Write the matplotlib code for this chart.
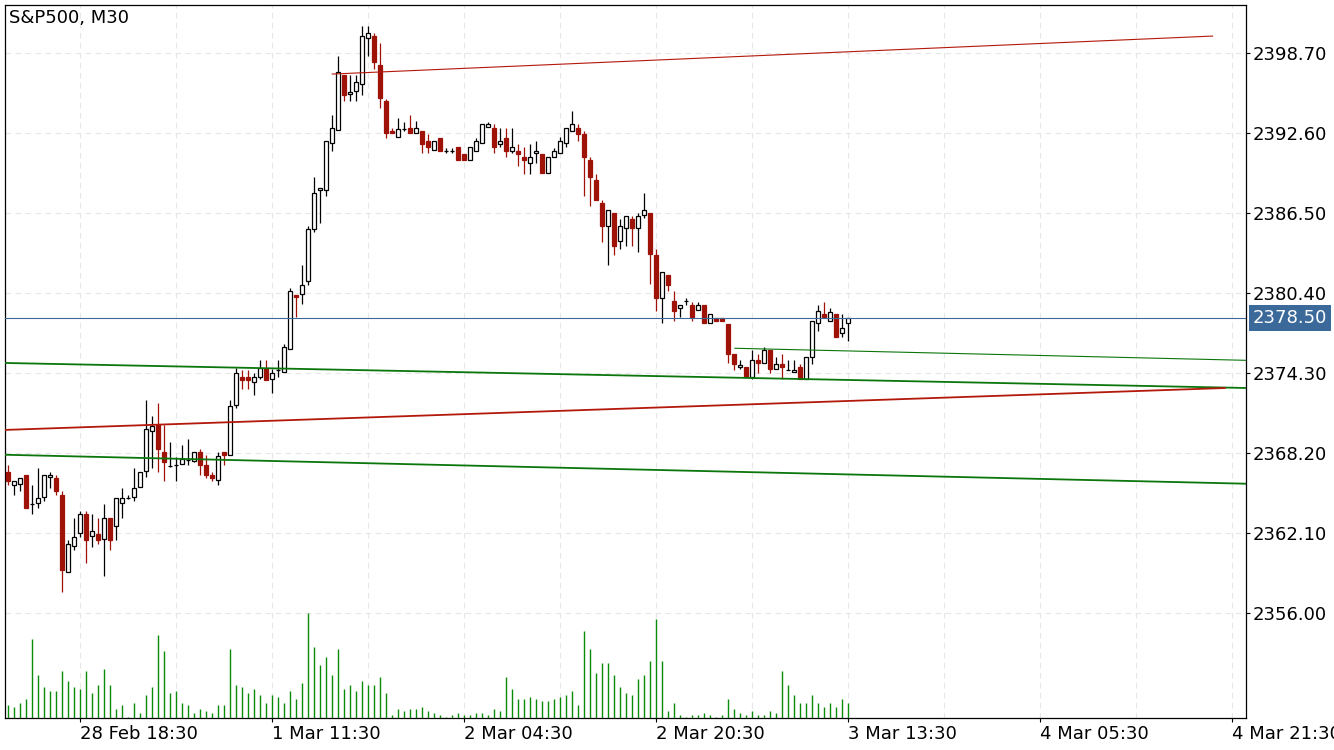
import matplotlib
matplotlib.use("Agg")
import matplotlib.pyplot as plt
import matplotlib.transforms as mtransforms
import numpy as np

# S&P500 M30 candles (bar index 0..140)
opens = [2366.78, 2365.81, 2365.83, 2366.55, 2364.31, 2364.39, 2364.84, 2366.37, 2366.32, 2365.02,
         2359.13, 2361.11, 2362.10, 2363.55, 2361.87, 2362.05, 2361.64, 2363.27, 2362.63, 2364.39,
         2364.79, 2364.84, 2365.61, 2366.83, 2369.88, 2370.36, 2368.30, 2367.26, 2367.28, 2367.36,
         2367.69, 2367.61, 2368.30, 2367.31, 2366.55, 2366.14, 2368.30, 2368.10, 2371.88, 2374.02,
         2374.02, 2373.61, 2374.04, 2374.63, 2373.84, 2374.55, 2374.37, 2376.13, 2380.24, 2380.32,
         2381.31, 2385.33, 2388.30, 2388.30, 2391.84, 2392.83, 2397.05, 2395.57, 2395.80, 2396.34,
         2399.84, 2400.02, 2397.81, 2395.06, 2392.78, 2392.29, 2392.96, 2392.98, 2392.60, 2392.75,
         2392.01, 2391.30, 2392.24, 2391.28, 2391.28, 2391.53, 2391.05, 2390.59, 2391.28, 2391.84,
         2393.06, 2393.01, 2391.81, 2392.24, 2391.28, 2391.25, 2390.79, 2390.31, 2391.07, 2391.02,
         2389.55, 2390.82, 2391.07, 2391.84, 2392.80, 2393.01, 2392.57, 2390.57, 2389.04, 2387.29,
         2385.56, 2386.50, 2384.37, 2385.36, 2386.07, 2385.36, 2386.35, 2386.50, 2383.32, 2380.07,
         2381.80, 2379.82, 2379.31, 2379.84, 2379.51, 2379.13, 2379.51, 2378.12, 2378.55, 2378.55,
         2378.09, 2375.80, 2374.81, 2374.81, 2374.05, 2375.32, 2375.07, 2376.08, 2374.61, 2375.02,
         2374.56, 2374.38, 2374.76, 2373.85, 2375.52, 2378.12, 2378.83, 2378.32, 2378.83, 2377.35,
         2378.12]
highs = [2367.31, 2366.06, 2366.29, 2366.55, 2365.78, 2367.08, 2366.52, 2366.78, 2366.55, 2365.33,
         2361.59, 2363.27, 2363.80, 2363.80, 2363.55, 2363.27, 2364.31, 2363.27, 2364.77, 2365.56,
         2365.02, 2367.08, 2366.75, 2372.27, 2371.05, 2372.04, 2370.36, 2369.06, 2367.94, 2368.83,
         2369.29, 2368.28, 2368.53, 2368.07, 2366.78, 2368.30, 2368.30, 2372.24, 2374.68, 2374.55,
         2374.55, 2374.32, 2375.31, 2375.31, 2374.63, 2375.31, 2376.51, 2380.78, 2380.24, 2382.56,
         2385.54, 2389.27, 2388.46, 2391.99, 2393.97, 2398.50, 2397.05, 2397.05, 2397.05, 2400.78,
         2400.78, 2400.22, 2399.46, 2395.24, 2392.98, 2393.74, 2393.49, 2393.97, 2393.51, 2392.75,
         2392.55, 2392.01, 2392.24, 2391.51, 2391.51, 2391.53, 2391.05, 2391.53, 2392.24, 2393.28,
         2393.46, 2393.28, 2393.01, 2393.01, 2393.01, 2391.81, 2391.53, 2391.79, 2391.99, 2391.02,
         2390.77, 2391.46, 2392.29, 2392.98, 2394.30, 2393.28, 2392.75, 2390.82, 2389.50, 2387.54,
         2386.73, 2386.50, 2386.07, 2386.27, 2386.27, 2386.50, 2388.02, 2386.50, 2383.75, 2382.00,
         2381.80, 2380.58, 2379.51, 2380.02, 2379.77, 2379.77, 2379.51, 2378.83, 2378.55, 2378.55,
         2378.09, 2375.80, 2375.32, 2374.81, 2376.08, 2375.78, 2376.34, 2376.08, 2375.57, 2375.78,
         2375.32, 2375.32, 2375.02, 2375.52, 2378.27, 2379.51, 2379.72, 2379.26, 2378.83, 2378.83,
         2378.50]
lows = [2365.78, 2365.02, 2365.35, 2364.06, 2363.60, 2364.06, 2364.59, 2365.58, 2365.02, 2357.60,
        2359.13, 2360.85, 2361.85, 2359.86, 2361.08, 2361.31, 2358.87, 2360.85, 2361.62, 2363.29,
        2364.74, 2364.59, 2365.61, 2366.42, 2367.11, 2366.80, 2366.12, 2367.13, 2366.12, 2367.36,
        2367.33, 2367.51, 2366.57, 2366.32, 2366.12, 2365.81, 2367.33, 2368.10, 2371.63, 2373.08,
        2373.08, 2372.62, 2373.87, 2373.81, 2372.82, 2374.04, 2374.37, 2376.13, 2378.57, 2379.56,
        2381.06, 2385.05, 2385.79, 2387.85, 2391.28, 2392.83, 2395.09, 2395.06, 2395.09, 2395.50,
        2398.50, 2397.53, 2394.56, 2392.27, 2392.60, 2392.29, 2392.80, 2392.60, 2392.60, 2391.07,
        2391.07, 2391.30, 2391.28, 2391.07, 2391.07, 2390.59, 2390.59, 2390.59, 2391.28, 2391.84,
        2393.06, 2391.07, 2391.58, 2390.82, 2391.07, 2390.08, 2389.52, 2389.52, 2390.31, 2389.55,
        2389.55, 2390.82, 2391.07, 2391.58, 2392.80, 2392.04, 2387.85, 2387.08, 2387.54, 2384.34,
        2382.59, 2383.32, 2383.81, 2384.03, 2384.03, 2383.58, 2386.12, 2381.09, 2379.08, 2378.11,
        2380.58, 2378.32, 2378.57, 2379.51, 2378.32, 2379.13, 2378.12, 2378.12, 2378.32, 2378.32,
        2375.07, 2374.56, 2374.61, 2374.00, 2373.85, 2374.30, 2375.07, 2374.30, 2374.61, 2373.85,
        2374.56, 2374.38, 2373.85, 2373.85, 2375.02, 2377.56, 2378.57, 2378.32, 2377.10, 2377.10,
        2376.79]
closes = [2366.12, 2366.06, 2366.29, 2364.06, 2364.31, 2364.77, 2366.52, 2366.52, 2365.35, 2359.33,
          2361.26, 2361.79, 2363.55, 2361.62, 2362.25, 2361.62, 2363.24, 2361.62, 2364.77, 2364.77,
          2364.79, 2365.53, 2366.75, 2370.03, 2370.26, 2368.55, 2367.56, 2367.26, 2367.28, 2367.79,
          2367.69, 2368.28, 2367.33, 2366.57, 2366.34, 2368.02, 2368.10, 2371.78, 2374.30, 2373.81,
          2373.81, 2374.02, 2374.68, 2373.81, 2374.30, 2374.55, 2376.28, 2380.55, 2380.09, 2381.01,
          2385.28, 2388.02, 2388.46, 2391.99, 2392.98, 2397.25, 2395.55, 2395.73, 2396.49, 2400.00,
          2400.22, 2398.06, 2395.32, 2392.60, 2392.60, 2392.96, 2392.96, 2392.60, 2392.98, 2391.81,
          2391.58, 2392.01, 2391.28, 2391.28, 2391.28, 2390.59, 2390.59, 2391.53, 2391.99, 2393.28,
          2393.28, 2391.58, 2391.99, 2391.28, 2391.53, 2391.05, 2390.59, 2390.77, 2391.23, 2389.55,
          2390.77, 2391.23, 2391.99, 2392.98, 2393.28, 2392.57, 2390.82, 2389.30, 2387.54, 2385.56,
          2386.73, 2384.03, 2385.51, 2386.27, 2385.36, 2386.27, 2386.73, 2383.37, 2380.07, 2382.00,
          2381.04, 2379.08, 2379.51, 2379.84, 2378.57, 2379.51, 2378.12, 2378.83, 2378.32, 2378.32,
          2375.80, 2375.04, 2374.97, 2374.00, 2375.32, 2375.07, 2376.08, 2374.61, 2375.02, 2374.81,
          2374.56, 2374.56, 2373.85, 2375.52, 2378.27, 2379.03, 2378.57, 2379.01, 2377.10, 2377.73,
          2378.50]
volumes = [40, 34, 46, 58, 238, 130, 94, 82, 82, 142, 112, 94, 88, 142, 76, 100, 148, 100, 28, 40,
           4, 46, 16, 70, 94, 250, 202, 76, 82, 46, 40, 16, 28, 22, 16, 40, 40, 208, 100, 94,
           76, 88, 70, 46, 70, 64, 46, 82, 58, 106, 316, 214, 160, 184, 130, 208, 88, 100, 82, 112,
           100, 100, 124, 76, 10, 28, 22, 28, 28, 34, 22, 16, 10, 4, 10, 16, 10, 10, 16, 16,
           10, 28, 22, 124, 88, 58, 58, 64, 58, 52, 52, 58, 64, 70, 82, 40, 262, 208, 136, 166,
           166, 130, 94, 76, 70, 118, 130, 172, 298, 172, 22, 46, 10, 4, 10, 10, 16, 10, 4, 10,
           58, 28, 16, 10, 22, 10, 10, 22, 16, 142, 100, 70, 46, 46, 70, 46, 34, 46, 34, 58,
           46]
last_price = 2378.50

tick_idx = [12, 44, 76, 108, 140, 172, 204]
tick_labels = ["28 Feb 18:30", "1 Mar 11:30", "2 Mar 04:30", "2 Mar 20:30",
               "3 Mar 13:30", "4 Mar 05:30", "4 Mar 21:30"]
price_ticks = [2356.00, 2362.10, 2368.20, 2374.30, 2380.40, 2386.50, 2392.60, 2398.70]

# trend lines: (bar0, price0, bar1, price1)
red_top = (53.9, 2397.12, 200.8, 2400.02)
green_upper = (-0.7, 2375.09, 206.3, 2373.18)
red_mid = (-0.7, 2369.98, 202.9, 2373.18)
green_lower = (-0.7, 2368.09, 206.3, 2365.88)
green_thin = (121.0, 2376.21, 206.3, 2375.29)

RED = "#9e1208"
LINE_RED = "#b3180b"
GREEN = "#0b760b"
VOL_GREEN = "#0a8c0a"
BLUE = "#3b6a9a"

W, H = 1334, 750
fig = plt.figure(figsize=(W / 100, H / 100), dpi=100)
ax = fig.add_axes([4.5 / W, 1 - 718.3 / H, (1246 - 4.5) / W, (718.3 - 4.7) / H])

# volume on a hidden twin axis (created first, twinx moves the ticks of ax)
ax2 = ax.twinx()

idx = np.arange(len(opens))
o, h, l, c = (np.array(a) for a in (opens, highs, lows, closes))
up = c >= o
lo = np.minimum(o, c)
bh = np.abs(c - o)

ax.vlines(idx[up], l[up], h[up], color="black", lw=0.9, zorder=2)
ax.vlines(idx[~up], l[~up], h[~up], color=RED, lw=0.9, zorder=2)
ax.bar(idx[up], bh[up], bottom=lo[up], width=0.62, facecolor="white", edgecolor="black", lw=0.9, zorder=3)
ax.bar(idx[~up], bh[~up], bottom=lo[~up], width=0.62, facecolor=RED, edgecolor=RED, lw=0.9, zorder=3)

for (x0, y0, x1, y1), col, lw in [(red_top, LINE_RED, 0.8), (green_upper, GREEN, 1.3),
                                  (red_mid, LINE_RED, 1.3), (green_lower, GREEN, 1.3),
                                  (green_thin, GREEN, 0.8)]:
    ax.plot([x0, x1], [y0, y1], color=col, lw=lw, zorder=4, solid_capstyle="butt")

ax.axhline(last_price, color=BLUE, lw=0.8, zorder=4)

ax.set_xlim(-0.64, 206.28)
ax.set_ylim(2347.99, 2402.41)

ax.yaxis.tick_right()
ax.set_yticks(price_ticks)
ax.set_yticklabels([f"{p:.2f}" for p in price_ticks])
ax.set_xticks(tick_idx)
ax.set_xticklabels(tick_labels, ha="left")
ax.set_xticks(np.arange(28, 205, 32), minor=True)
ax.tick_params(axis="both", which="major", length=3, width=0.8, labelsize=13, pad=2, colors="black")
ax.tick_params(axis="y", left=False, labelleft=False, right=True, labelright=True)
ax.tick_params(axis="x", which="minor", length=0)
ax.grid(True, which="both", color="#e6e6e6", lw=0.8, ls=(0, (5, 4)), zorder=0)
ax.set_axisbelow(True)
for sp in ax.spines.values():
    sp.set_linewidth(0.9)

trans = mtransforms.blended_transform_factory(ax.transAxes, ax.transData)
ax.text(1.0055, last_price, f"{last_price:.2f}", transform=trans, ha="left", va="center",
        fontsize=13, color="white", zorder=6, clip_on=False,
        bbox=dict(boxstyle="square,pad=0.22", fc=BLUE, ec="none"))

ax2.vlines(idx, 0, volumes, color=VOL_GREEN, lw=1.0)
ax2.set_ylim(0, 2141)
ax2.set_axis_off()

fig.text(9 / W, 1 - 18 / H, "S&P500, M30", fontsize=13, ha="left", va="center")

fig.savefig("out.png", dpi=100)
